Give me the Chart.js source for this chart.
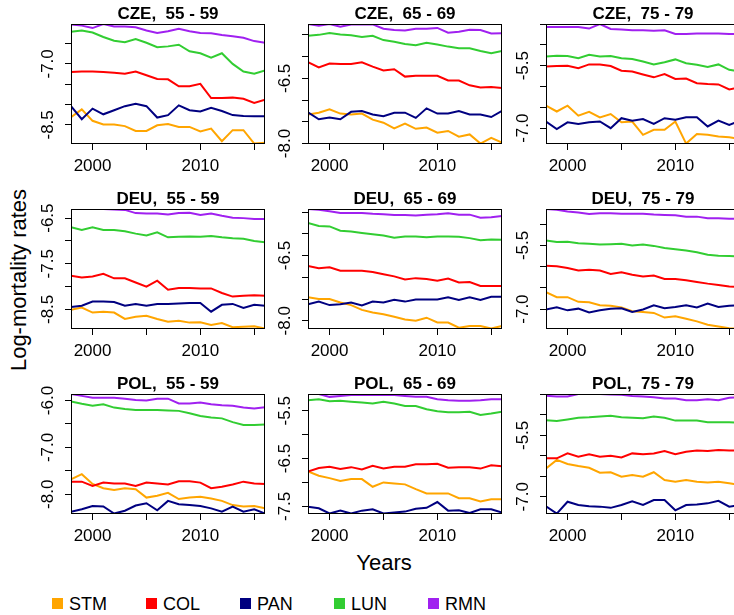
<!DOCTYPE html>
<html>
<head>
<meta charset="utf-8">
<script src="https://cdn.jsdelivr.net/npm/chart.js@4.4.1/dist/chart.umd.min.js"></script>
<style>
  body { margin: 0; width: 734px; height: 615px; overflow: hidden; background: #fff; position: relative;
         font-family: "Liberation Sans", Arial, sans-serif; color: #000; }
  canvas { position: absolute; }
  #ylab { position: absolute; left: 19px; top: 280px; font-size: 22px; white-space: nowrap;
          transform: translate(-50%, -50%) rotate(-90deg); }
  #xlab { position: absolute; left: 384px; top: 552px; font-size: 22px; line-height: 22px; transform: translateX(-50%); }
  .lg-box { position: absolute; width: 11px; height: 11px; top: 598px; }
  .lg-txt { position: absolute; top: 595px; font-size: 18px; line-height: 18px; }
</style>
</head>
<body>
<div id="ylab">Log-mortality rates</div>
<div id="xlab">Years</div>
<div id="legend"></div>
<script>
const years = [1998, 1999, 2000, 2001, 2002, 2003, 2004, 2005, 2006, 2007, 2008, 2009, 2010, 2011, 2012, 2013, 2014, 2015, 2016];
const seriesNames = ['STM', 'COL', 'PAN', 'LUN', 'RMN'];
const seriesColors = ['#FFA500', '#FF0000', '#000080', '#32CD32', '#A020F0'];

// each panel: [STM, COL, PAN, LUN, RMN]
const cze5559 = [
  [-8.31, -8.12, -8.40, -8.49, -8.49, -8.53, -8.65, -8.65, -8.51, -8.48, -8.55, -8.55, -8.66, -8.59, -8.90, -8.63, -8.63, -8.96, -8.94],
  [-7.20, -7.19, -7.19, -7.20, -7.22, -7.24, -7.19, -7.28, -7.37, -7.38, -7.55, -7.55, -7.49, -7.84, -7.84, -7.83, -7.86, -7.96, -7.88],
  [-8.04, -8.36, -8.10, -8.24, -8.14, -8.04, -7.98, -8.04, -8.32, -8.26, -8.02, -8.14, -8.17, -8.08, -8.16, -8.26, -8.28, -8.29, -8.29],
  [-6.21, -6.18, -6.23, -6.34, -6.43, -6.47, -6.39, -6.48, -6.59, -6.57, -6.53, -6.69, -6.74, -6.85, -6.74, -7.00, -7.19, -7.24, -7.16],
  [-6.03, -6.06, -6.12, -6.02, -6.08, -6.08, -6.10, -6.18, -6.24, -6.20, -6.14, -6.20, -6.24, -6.25, -6.29, -6.32, -6.36, -6.44, -6.48]
];
const cze6569 = [
  [-7.33, -7.29, -7.21, -7.31, -7.33, -7.31, -7.45, -7.52, -7.65, -7.54, -7.66, -7.63, -7.75, -7.71, -7.84, -7.79, -8.00, -7.87, -7.98],
  [-6.13, -6.25, -6.16, -6.17, -6.17, -6.13, -6.23, -6.32, -6.29, -6.46, -6.44, -6.44, -6.44, -6.55, -6.55, -6.66, -6.71, -6.70, -6.72],
  [-7.28, -7.44, -7.40, -7.44, -7.27, -7.25, -7.33, -7.37, -7.29, -7.29, -7.41, -7.19, -7.31, -7.31, -7.25, -7.33, -7.33, -7.39, -7.25],
  [-5.52, -5.50, -5.46, -5.49, -5.51, -5.55, -5.52, -5.62, -5.66, -5.71, -5.74, -5.68, -5.72, -5.77, -5.81, -5.81, -5.87, -5.92, -5.87],
  [-5.25, -5.29, -5.25, -5.31, -5.26, -5.26, -5.26, -5.36, -5.39, -5.40, -5.36, -5.36, -5.34, -5.45, -5.43, -5.38, -5.39, -5.47, -5.46]
];
const cze7579 = [
  [-6.46, -6.60, -6.46, -6.70, -6.61, -6.74, -6.66, -6.86, -6.84, -7.16, -7.04, -7.04, -6.84, -7.37, -7.14, -7.16, -7.20, -7.22, -7.26],
  [-5.52, -5.51, -5.50, -5.56, -5.47, -5.47, -5.51, -5.62, -5.64, -5.71, -5.78, -5.70, -5.82, -5.81, -5.92, -5.94, -5.95, -6.07, -6.02],
  [-6.84, -7.02, -6.86, -6.90, -6.86, -6.84, -7.00, -6.76, -6.82, -6.78, -6.90, -6.76, -6.80, -6.74, -6.74, -6.96, -6.82, -6.92, -6.82],
  [-5.28, -5.26, -5.27, -5.32, -5.24, -5.28, -5.27, -5.32, -5.34, -5.40, -5.47, -5.42, -5.35, -5.44, -5.48, -5.53, -5.47, -5.60, -5.64],
  [-4.57, -4.57, -4.57, -4.57, -4.61, -4.50, -4.62, -4.63, -4.65, -4.65, -4.66, -4.65, -4.74, -4.74, -4.73, -4.73, -4.73, -4.74, -4.74]
];
const deu5559 = [
  [-8.51, -8.46, -8.57, -8.55, -8.57, -8.71, -8.66, -8.64, -8.71, -8.77, -8.75, -8.79, -8.78, -8.84, -8.80, -8.89, -8.88, -8.87, -8.92],
  [-7.76, -7.80, -7.78, -7.72, -7.82, -7.82, -7.91, -8.00, -7.87, -8.07, -8.03, -8.03, -8.04, -8.04, -8.14, -8.22, -8.20, -8.19, -8.20],
  [-8.45, -8.42, -8.33, -8.33, -8.34, -8.42, -8.38, -8.42, -8.38, -8.38, -8.37, -8.36, -8.36, -8.55, -8.40, -8.38, -8.47, -8.40, -8.42],
  [-6.70, -6.76, -6.70, -6.76, -6.76, -6.79, -6.84, -6.88, -6.81, -6.92, -6.91, -6.90, -6.91, -6.89, -6.92, -6.94, -6.95, -7.00, -7.03],
  [-6.30, -6.30, -6.30, -6.30, -6.31, -6.32, -6.39, -6.40, -6.40, -6.42, -6.39, -6.38, -6.43, -6.40, -6.45, -6.49, -6.50, -6.52, -6.52]
];
const deu6569 = [
  [-7.46, -7.50, -7.50, -7.58, -7.64, -7.75, -7.81, -7.85, -7.91, -7.97, -8.00, -7.93, -8.04, -8.04, -8.16, -8.12, -8.12, -8.18, -8.12],
  [-6.74, -6.79, -6.77, -6.85, -6.85, -6.85, -6.88, -6.93, -6.98, -7.05, -7.02, -7.04, -7.08, -7.03, -7.12, -7.11, -7.20, -7.20, -7.20],
  [-7.62, -7.56, -7.64, -7.62, -7.58, -7.65, -7.56, -7.58, -7.52, -7.56, -7.51, -7.51, -7.51, -7.46, -7.52, -7.46, -7.52, -7.45, -7.45],
  [-5.75, -5.82, -5.83, -5.93, -5.95, -5.98, -6.01, -6.04, -6.09, -6.06, -6.06, -6.08, -6.06, -6.06, -6.07, -6.10, -6.15, -6.13, -6.14],
  [-5.43, -5.45, -5.48, -5.52, -5.52, -5.52, -5.54, -5.55, -5.57, -5.57, -5.58, -5.56, -5.55, -5.53, -5.56, -5.56, -5.63, -5.62, -5.59]
];
const deu7579 = [
  [-6.60, -6.72, -6.72, -6.83, -6.84, -6.91, -6.92, -6.96, -7.05, -7.07, -7.09, -7.20, -7.17, -7.23, -7.29, -7.37, -7.41, -7.45, -7.46],
  [-5.98, -5.99, -6.03, -6.09, -6.07, -6.09, -6.17, -6.13, -6.19, -6.23, -6.21, -6.29, -6.29, -6.32, -6.36, -6.40, -6.43, -6.47, -6.48],
  [-7.01, -6.96, -7.03, -6.99, -7.08, -7.03, -6.99, -6.98, -7.07, -7.01, -6.91, -6.98, -6.95, -6.91, -6.96, -6.87, -6.95, -6.92, -6.91],
  [-5.38, -5.42, -5.41, -5.45, -5.46, -5.48, -5.47, -5.46, -5.50, -5.48, -5.51, -5.56, -5.59, -5.62, -5.66, -5.72, -5.74, -5.75, -5.76],
  [-4.64, -4.66, -4.70, -4.72, -4.76, -4.74, -4.74, -4.75, -4.75, -4.75, -4.77, -4.78, -4.79, -4.82, -4.82, -4.86, -4.86, -4.87, -4.87]
];
const pol5559 = [
  [-7.68, -7.57, -7.78, -7.87, -7.91, -7.87, -7.89, -8.07, -8.03, -7.97, -8.10, -8.07, -8.05, -8.09, -8.14, -8.23, -8.26, -8.25, -8.30],
  [-7.73, -7.73, -7.82, -7.75, -7.77, -7.77, -7.82, -7.75, -7.77, -7.79, -7.72, -7.72, -7.75, -7.87, -7.84, -7.79, -7.73, -7.77, -7.78],
  [-8.37, -8.32, -8.25, -8.26, -8.41, -8.35, -8.24, -8.19, -8.34, -8.14, -8.21, -8.23, -8.25, -8.30, -8.37, -8.26, -8.37, -8.32, -8.41],
  [-6.02, -6.07, -6.11, -6.08, -6.15, -6.18, -6.20, -6.20, -6.20, -6.21, -6.22, -6.27, -6.33, -6.36, -6.38, -6.46, -6.52, -6.52, -6.51],
  [-5.86, -5.90, -5.94, -5.94, -5.94, -5.96, -5.99, -6.00, -5.96, -5.96, -6.06, -6.06, -6.04, -6.08, -6.10, -6.11, -6.15, -6.17, -6.14]
];
const pol6569 = [
  [-6.77, -6.86, -6.91, -6.97, -6.93, -6.93, -7.09, -7.00, -7.02, -7.04, -7.14, -7.23, -7.23, -7.23, -7.33, -7.33, -7.40, -7.35, -7.35],
  [-6.77, -6.70, -6.67, -6.72, -6.68, -6.73, -6.65, -6.71, -6.67, -6.67, -6.62, -6.62, -6.61, -6.69, -6.68, -6.68, -6.71, -6.64, -6.66],
  [-7.51, -7.54, -7.65, -7.59, -7.65, -7.59, -7.56, -7.65, -7.63, -7.61, -7.55, -7.53, -7.41, -7.59, -7.58, -7.64, -7.56, -7.56, -7.63],
  [-5.28, -5.26, -5.30, -5.29, -5.31, -5.33, -5.35, -5.31, -5.35, -5.40, -5.40, -5.47, -5.51, -5.53, -5.53, -5.52, -5.59, -5.56, -5.52],
  [-5.15, -5.15, -5.21, -5.19, -5.17, -5.17, -5.17, -5.17, -5.17, -5.19, -5.21, -5.21, -5.26, -5.28, -5.29, -5.29, -5.28, -5.26, -5.26]
];
const pol7579 = [
  [-6.31, -6.10, -6.20, -6.25, -6.29, -6.41, -6.40, -6.51, -6.47, -6.51, -6.40, -6.59, -6.63, -6.59, -6.63, -6.65, -6.63, -6.67, -6.71],
  [-6.06, -6.06, -5.94, -6.02, -5.96, -6.02, -6.00, -6.04, -5.94, -5.96, -5.94, -5.88, -5.96, -5.90, -5.87, -5.88, -5.86, -5.87, -5.87],
  [-7.23, -7.41, -7.12, -7.20, -7.23, -7.24, -7.27, -7.20, -7.11, -7.20, -7.08, -7.08, -7.33, -7.20, -7.19, -7.16, -7.10, -7.24, -7.20],
  [-5.13, -5.15, -5.11, -5.07, -5.06, -5.04, -5.02, -5.06, -5.07, -5.08, -5.04, -5.07, -5.14, -5.14, -5.14, -5.18, -5.18, -5.18, -5.19],
  [-4.53, -4.55, -4.55, -4.49, -4.49, -4.49, -4.50, -4.51, -4.54, -4.55, -4.57, -4.60, -4.60, -4.64, -4.64, -4.62, -4.64, -4.58, -4.57]
];

const panelTitles = ['CZE,  55 - 59', 'CZE,  65 - 69', 'CZE,  75 - 79',
                     'DEU,  55 - 59', 'DEU,  65 - 69', 'DEU,  75 - 79',
                     'POL,  55 - 59', 'POL,  65 - 69', 'POL,  75 - 79'];
const panelData = [cze5559, cze6569, cze7579, deu5559, deu6569, deu7579, pol5559, pol6569, pol7579];
const yRanges = [[-8.97, -6.02], [-8.01, -5.25], [-7.38, -4.50],
                 [-8.93, -6.30], [-8.19, -5.43], [-7.47, -4.64],
                 [-8.42, -5.86], [-7.66, -5.15], [-7.42, -4.49]];
const yLabelled = [[-8.5, -7.0], [-8.0, -6.5], [-7.0, -5.5],
                   [-8.5, -7.5, -6.5], [-8.0, -6.5], [-7.0, -5.5],
                   [-8.0, -7.0, -6.0], [-7.5, -6.5, -5.5], [-7.0, -5.5]];
const xTicks = [2000, 2005, 2010, 2015];
const xLabelled = [2000, 2010];

Chart.defaults.font.family = '"Liberation Sans", Arial, sans-serif';
Chart.defaults.color = '#000';

// layout of the 3x3 grid (plot boxes)
const colLeft = [71, 308, 546];
const rowTop = [24, 209, 394];
const plotW = 194, plotH = 120;
const pad = { left: 50, top: 24, right: 8, bottom: 34 };

// R-style frame, rotated y labels and panel title
const rFrame = {
  id: 'rFrame',
  afterDraw(chart, args, opts) {
    const { ctx, chartArea: a } = chart;
    const y = chart.scales.y;
    ctx.save();
    ctx.strokeStyle = '#000';
    ctx.lineWidth = 1;
    ctx.strokeRect(Math.round(a.left) + 0.5, Math.round(a.top) + 0.5,
                   Math.round(a.right - a.left) - 1, Math.round(a.bottom - a.top) - 1);
    ctx.fillStyle = '#000';
    ctx.font = '17px "Liberation Sans", Arial, sans-serif';
    ctx.textAlign = 'center';
    ctx.textBaseline = 'alphabetic';
    opts.labels.forEach(v => {
      const py = y.getPixelForValue(v);
      ctx.save();
      ctx.translate(a.left - 18, py);
      ctx.rotate(-Math.PI / 2);
      ctx.fillText(v.toFixed(1), 0, 0);
      ctx.restore();
    });
    ctx.font = 'bold 17px "Liberation Sans", Arial, sans-serif';
    ctx.fillText(opts.title, (a.left + a.right) / 2, a.top - 5);
    ctx.restore();
  }
};

panelData.forEach((series, p) => {
  const r = Math.floor(p / 3), c = p % 3;
  const canvas = document.createElement('canvas');
  const w = plotW + pad.left + pad.right, h = plotH + pad.top + pad.bottom;
  canvas.width = w; canvas.height = h;
  canvas.style.width = w + 'px'; canvas.style.height = h + 'px';
  canvas.style.left = (colLeft[c] - pad.left) + 'px';
  canvas.style.top = (rowTop[r] - pad.top) + 'px';
  document.body.appendChild(canvas);

  const [yMin, yMax] = yRanges[p];
  const yTicks = [];
  for (let v = Math.ceil(yMin * 2) / 2; v <= yMax + 1e-9; v += 0.5) yTicks.push(v);

  new Chart(canvas, {
    type: 'line',
    data: {
      datasets: series.map((vals, i) => ({
        label: seriesNames[i],
        data: vals.map((v, k) => ({ x: years[k], y: v })),
        borderColor: seriesColors[i],
        backgroundColor: seriesColors[i],
        borderWidth: 2,
        pointRadius: 0,
        tension: 0,
        fill: false,
        order: seriesNames.length - i
      }))
    },
    options: {
      responsive: false,
      animation: false,
      events: [],
      layout: { padding: { left: pad.left, top: pad.top, right: pad.right, bottom: 0 } },
      scales: {
        x: {
          type: 'linear',
          min: years[0],
          max: years[years.length - 1],
          afterBuildTicks: s => { s.ticks = xTicks.map(v => ({ value: v })); },
          afterFit: s => { s.height = pad.bottom; },
          grid: { drawOnChartArea: false, drawTicks: true, tickLength: 6, color: '#000' },
          border: { display: false },
          ticks: {
            autoSkip: false, maxRotation: 0, padding: 6,
            font: { size: 17 }, color: '#000',
            callback: v => xLabelled.includes(v) ? String(v) : ''
          }
        },
        y: {
          min: yMin,
          max: yMax,
          afterBuildTicks: s => { s.ticks = yTicks.map(v => ({ value: v })); },
          afterFit: s => { s.width = 0; },
          grid: { drawOnChartArea: false, drawTicks: true, tickLength: 6, color: '#000' },
          border: { display: false },
          ticks: { display: false }
        }
      },
      plugins: {
        legend: { display: false },
        tooltip: { enabled: false },
        rFrame: { title: panelTitles[p], labels: yLabelled[p] }
      }
    },
    plugins: [rFrame]
  });
});

// legend row at the bottom
const legend = document.getElementById('legend');
seriesNames.forEach((name, i) => {
  const box = document.createElement('div');
  box.className = 'lg-box';
  box.style.left = (52 + i * 94) + 'px';
  box.style.background = seriesColors[i];
  const txt = document.createElement('div');
  txt.className = 'lg-txt';
  txt.style.left = (69 + i * 94) + 'px';
  txt.textContent = name;
  legend.appendChild(box);
  legend.appendChild(txt);
});
</script>
</body>
</html>
